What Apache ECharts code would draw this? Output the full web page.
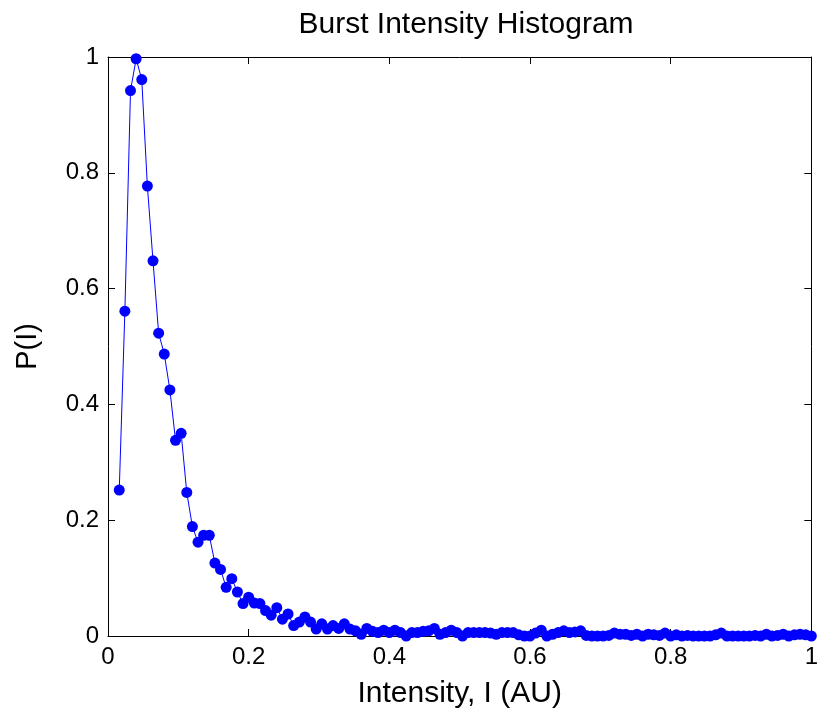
<!DOCTYPE html>
<html>
<head>
<meta charset="utf-8">
<script src="https://cdn.jsdelivr.net/npm/echarts@6/dist/echarts.min.js"></script>
<style>
  html, body { margin: 0; padding: 0; background: #fff; }
  #chart { width: 821px; height: 718px; }
</style>
</head>
<body>
<div id="chart"></div>
<script>
// bin centres of the intensity histogram
const intensity = [
  0.016, 0.024, 0.032, 0.040, 0.048, 0.056, 0.064, 0.072, 0.080, 0.088,
  0.096, 0.104, 0.112, 0.120, 0.128, 0.136, 0.144, 0.152, 0.160, 0.168,
  0.176, 0.184, 0.192, 0.200, 0.208, 0.216, 0.224, 0.232, 0.240, 0.248,
  0.256, 0.264, 0.272, 0.280, 0.288, 0.296, 0.304, 0.312, 0.320, 0.328,
  0.336, 0.344, 0.352, 0.360, 0.368, 0.376, 0.384, 0.392, 0.400, 0.408,
  0.416, 0.424, 0.432, 0.440, 0.448, 0.456, 0.464, 0.472, 0.480, 0.488,
  0.496, 0.504, 0.512, 0.520, 0.528, 0.536, 0.544, 0.552, 0.560, 0.568,
  0.576, 0.584, 0.592, 0.600, 0.608, 0.616, 0.624, 0.632, 0.640, 0.648,
  0.656, 0.664, 0.672, 0.680, 0.688, 0.696, 0.704, 0.712, 0.720, 0.728,
  0.736, 0.744, 0.752, 0.760, 0.768, 0.776, 0.784, 0.792, 0.800, 0.808,
  0.816, 0.824, 0.832, 0.840, 0.848, 0.856, 0.864, 0.872, 0.880, 0.888,
  0.896, 0.904, 0.912, 0.920, 0.928, 0.936, 0.944, 0.952, 0.960, 0.968,
  0.976, 0.984, 0.992, 1.000
]
// normalised counts P(I)
const probability = [
  0.252, 0.561, 0.942, 0.997, 0.961, 0.777, 0.648, 0.523, 0.487, 0.425,
  0.338, 0.350, 0.248, 0.189, 0.162, 0.174, 0.174, 0.126, 0.115, 0.084,
  0.099, 0.076, 0.056, 0.067, 0.057, 0.056, 0.044, 0.036, 0.049, 0.029,
  0.038, 0.018, 0.024, 0.033, 0.024, 0.012, 0.021, 0.012, 0.018, 0.013,
  0.021, 0.012, 0.009, 0.003, 0.013, 0.008, 0.006, 0.010, 0.006, 0.010,
  0.006, 0.000, 0.006, 0.006, 0.008, 0.009, 0.013, 0.003, 0.006, 0.010,
  0.006, 0.000, 0.006, 0.006, 0.006, 0.006, 0.005, 0.003, 0.006, 0.006,
  0.006, 0.002, 0.000, 0.000, 0.005, 0.010, 0.000, 0.003, 0.006, 0.009,
  0.006, 0.007, 0.009, 0.001, 0.000, 0.000, 0.000, 0.001, 0.005, 0.003,
  0.003, 0.001, 0.003, 0.000, 0.003, 0.002, 0.001, 0.005, 0.000, 0.002,
  0.000, 0.001, 0.000, 0.000, 0.000, 0.000, 0.002, 0.005, 0.000, 0.000,
  0.000, 0.000, 0.000, 0.001, 0.000, 0.003, 0.000, 0.001, 0.003, 0.000,
  0.002, 0.003, 0.002, 0.000
]

const font = 'Liberation Sans, Arial, sans-serif'
const chart = echarts.init(document.getElementById('chart'))

// top and right edges of the box, ticks only
const frameAxis = (pos) => ({
  type: 'value',
  position: pos,
  min: 0,
  max: 1,
  interval: 0.2,
  axisLine: { show: true, onZero: false, lineStyle: { color: '#000', width: 1 } },
  axisTick: { show: true, inside: true, length: 7, lineStyle: { color: '#000' } },
  axisLabel: { show: false },
  splitLine: { show: false }
})

chart.setOption({
  backgroundColor: '#fff',
  animation: false,
  title: {
    text: 'Burst Intensity Histogram',
    left: 461,
    top: 5,
    textAlign: 'center',
    textStyle: { fontFamily: font, fontSize: 30, fontWeight: 'normal', color: '#000' }
  },
  grid: { left: 108, right: 6, top: 57, bottom: 82 },
  xAxis: [
    {
      type: 'value',
      position: 'bottom',
      min: 0,
      max: 1,
      interval: 0.2,
      name: 'Intensity, I (AU)',
      nameLocation: 'middle',
      nameGap: 43,
      nameTextStyle: { fontFamily: font, fontSize: 30, color: '#000' },
      axisLine: { show: true, onZero: false, lineStyle: { color: '#000', width: 1 } },
      axisTick: { show: true, inside: true, length: 7, lineStyle: { color: '#000' } },
      axisLabel: { fontFamily: font, fontSize: 24, color: '#000', margin: 9 },
      splitLine: { show: false }
    },
    frameAxis('top')
  ],
  yAxis: [
    {
      type: 'value',
      position: 'left',
      min: 0,
      max: 1,
      interval: 0.2,
      name: 'P(I)',
      nameLocation: 'middle',
      nameGap: 66,
      nameRotate: 90,
      nameTextStyle: { fontFamily: font, fontSize: 29, color: '#000' },
      axisLine: { show: true, onZero: false, lineStyle: { color: '#000', width: 1 } },
      axisTick: { show: true, inside: true, length: 7, lineStyle: { color: '#000' } },
      axisLabel: { fontFamily: font, fontSize: 24, color: '#000', margin: 9 },
      splitLine: { show: false }
    },
    frameAxis('right')
  ],
  series: [{
    type: 'line',
    xAxisIndex: 0,
    yAxisIndex: 0,
    data: intensity.map((x, i) => [x, probability[i]]),
    symbol: 'circle',
    symbolSize: 11,
    showAllSymbol: true,
    itemStyle: { color: '#0000ff' },
    lineStyle: { color: '#0000ff', width: 1 }
  }]
})
</script>
</body>
</html>
